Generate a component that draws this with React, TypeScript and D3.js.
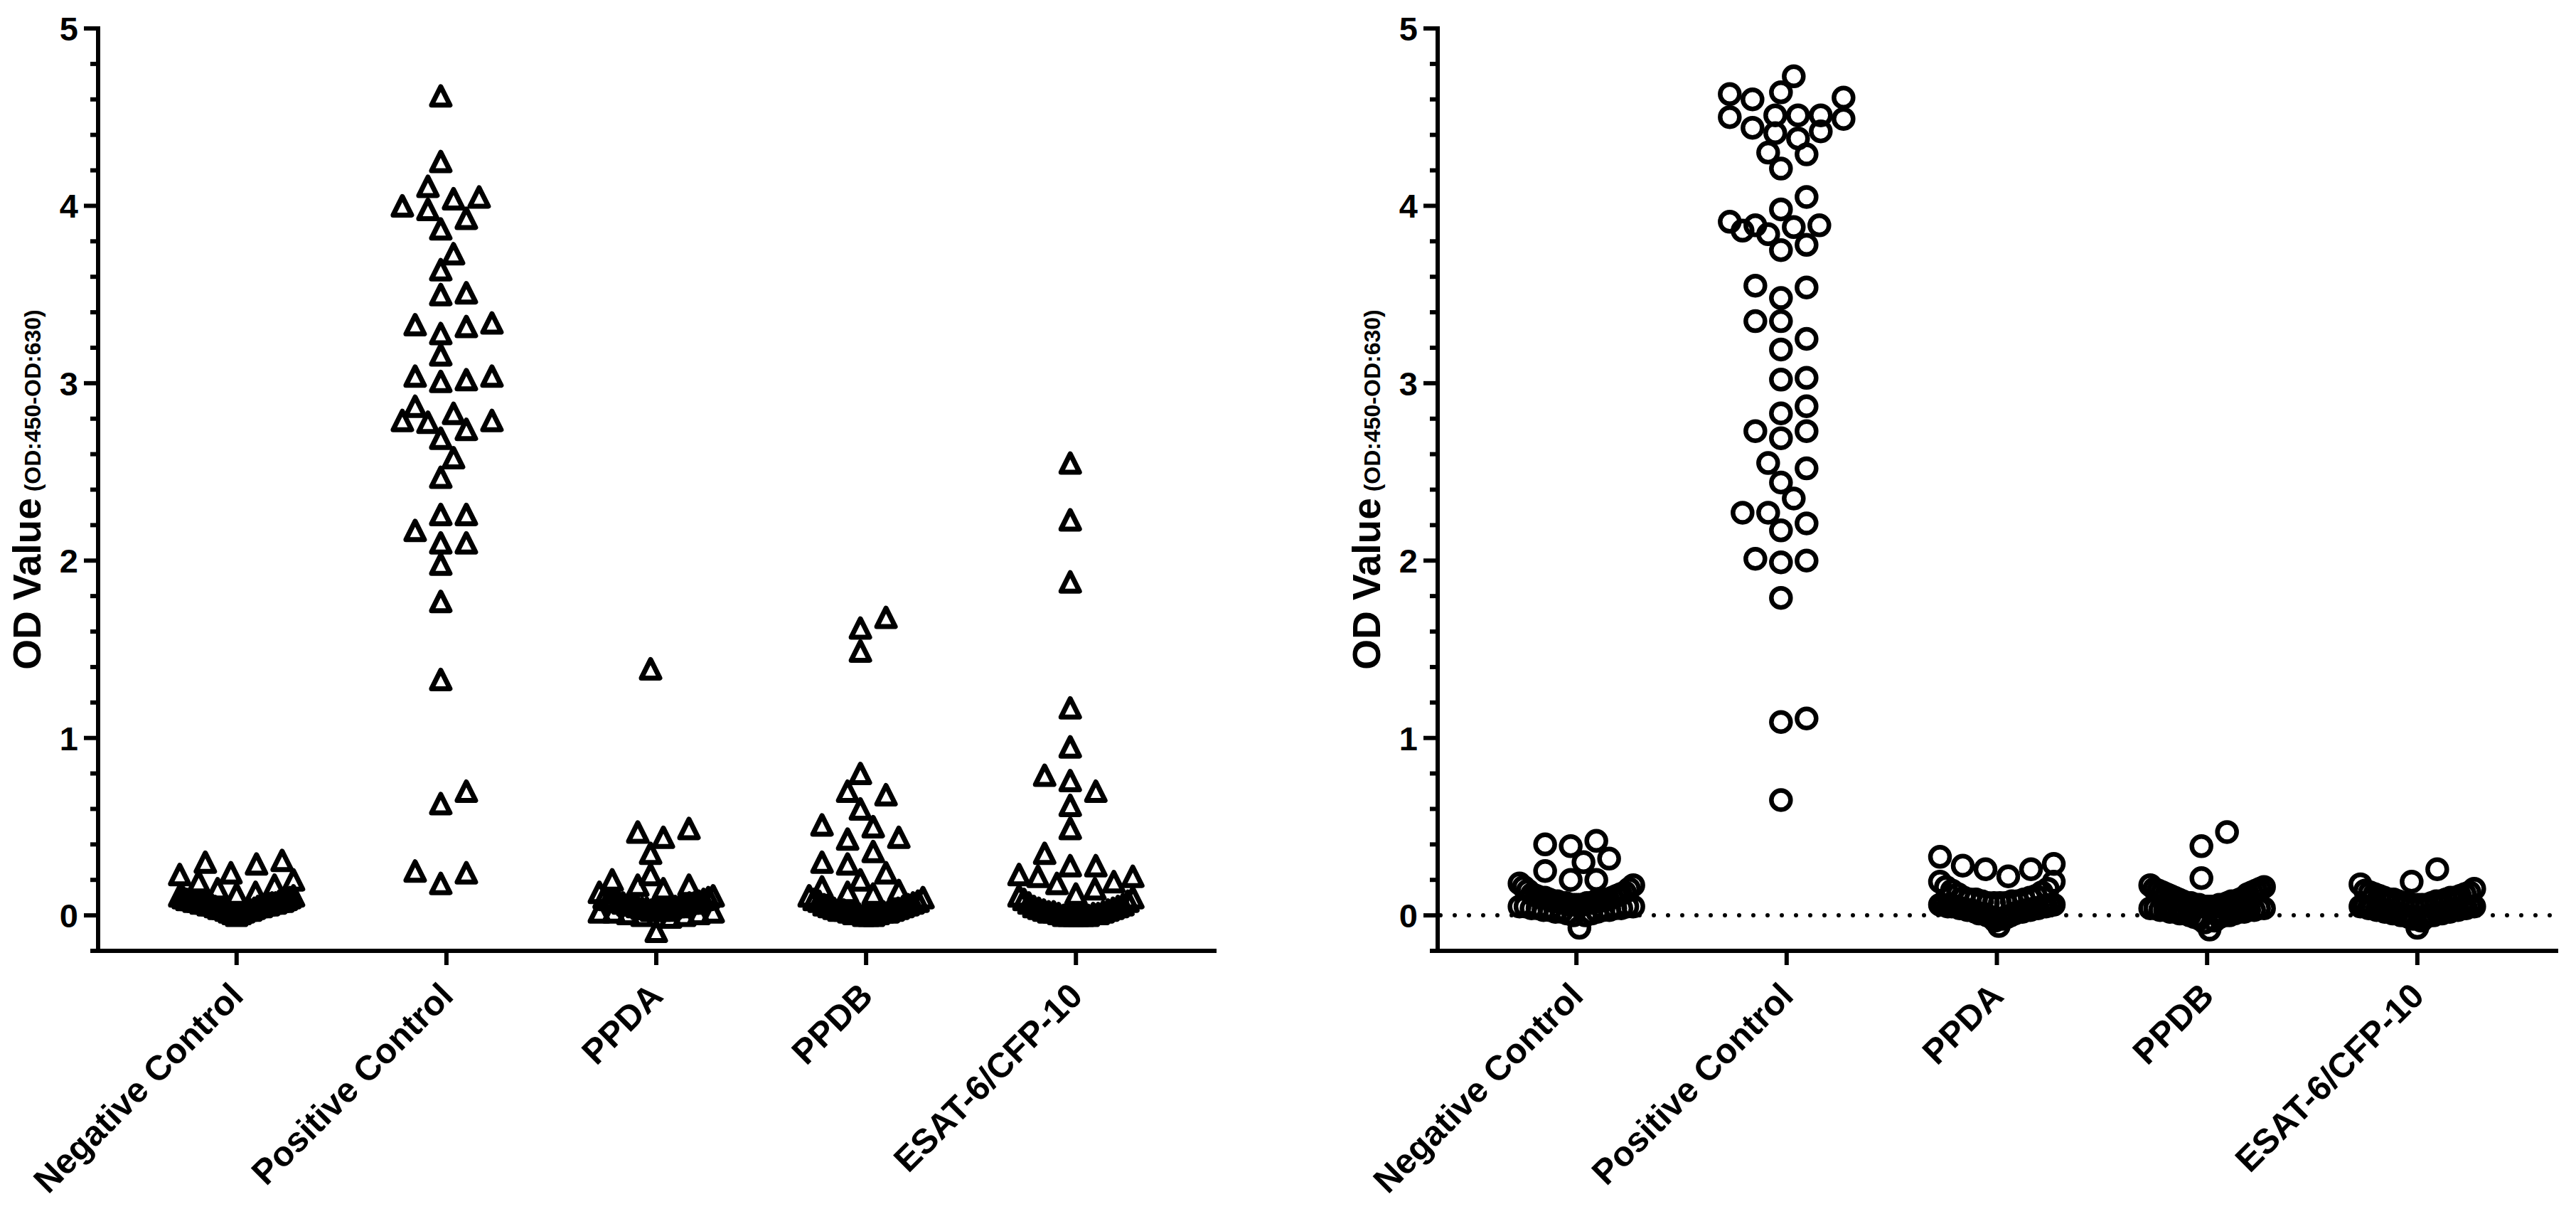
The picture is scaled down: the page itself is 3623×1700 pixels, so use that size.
import { useMemo } from "react";
import * as d3 from "d3";

const WIDTH = 3623;
const HEIGHT = 1700;
const FONT = "'Liberation Sans', Arial, Helvetica, sans-serif";

const CATEGORIES = ["Negative Control", "Positive Control", "PPDA", "PPDB", "ESAT-6/CFP-10"];
const Y_TICK_LABELS = [0, 1, 2, 3, 4, 5];

// left panel (triangles)
const leftNegative = [
  0.31, 0.3, 0.29, 0.24, 0.23, 0.2, 0.19, 0.17, 0.15,
  0.0, 0.01, 0.01, 0.02, 0.02, 0.03, 0.03, 0.03, 0.04, 0.04, 0.04, 0.05, 0.05, 0.05,
  0.06, 0.06, 0.06, 0.06, 0.07, 0.07, 0.07, 0.07, 0.08, 0.08, 0.08, 0.08, 0.09, 0.09,
  0.09, 0.1, 0.1, 0.11, 0.11, 0.12, 0.13,
];
const leftPositive = [
  4.62, 4.25, 4.11, 4.05, 4.04, 4.0, 3.98, 3.93, 3.87, 3.73, 3.64, 3.51, 3.5, 3.34,
  3.33, 3.32, 3.28, 3.16, 3.04, 3.04, 3.02, 3.01, 2.87, 2.83, 2.79, 2.79, 2.78, 2.74,
  2.69, 2.58, 2.47, 2.26, 2.26, 2.17, 2.1, 2.1, 1.98, 1.77, 1.33, 0.7, 0.63, 0.25,
  0.24, 0.18,
];
const leftPPDA = [
  1.39, 0.49, 0.47, 0.44, 0.35, 0.23, 0.2, 0.17, 0.17, 0.15, 0.13, 0.09, -0.09,
  -0.01, 0.0, 0.0, 0.01, 0.01, 0.02, 0.02, 0.02, 0.03, 0.03, 0.03, 0.03, 0.04, 0.04,
  0.04, 0.05, 0.05, 0.05, 0.06, 0.06, 0.06, 0.07, 0.07, 0.07, 0.08, 0.08, 0.09, 0.09,
  0.1, 0.1, 0.11,
];
const leftPPDB = [
  1.68, 1.62, 1.49, 0.8, 0.7, 0.68, 0.6, 0.51, 0.5, 0.44, 0.43, 0.36, 0.3, 0.29,
  0.24, 0.2, 0.16,
  0.0, 0.0, 0.0, 0.01, 0.01, 0.01, 0.02, 0.02, 0.02, 0.03, 0.03, 0.03, 0.04, 0.04,
  0.05, 0.05, 0.06, 0.06, 0.07, 0.08, 0.08, 0.09, 0.1, 0.11, 0.12, 0.13, 0.14,
];
const leftESAT = [
  2.55, 2.23, 1.88, 1.17, 0.95, 0.79, 0.76, 0.7, 0.62, 0.49, 0.35, 0.28, 0.28, 0.23,
  0.22, 0.22, 0.19, 0.18, 0.15, 0.12,
  0.0, 0.0, 0.0, 0.0, 0.0, 0.0, 0.01, 0.01, 0.01, 0.02, 0.02, 0.02, 0.03, 0.03,
  0.04, 0.04, 0.05, 0.05, 0.06, 0.07, 0.08, 0.09, 0.1, 0.11,
];

// right panel (circles)
const rightNegative = [
  0.42, 0.4, 0.39, 0.32, 0.3, 0.25, 0.2, 0.2, -0.07,
  0.0, 0.0, 0.01, 0.01, 0.02, 0.02, 0.02, 0.03, 0.03, 0.03, 0.03, 0.04, 0.04, 0.04,
  0.04, 0.05, 0.05, 0.05, 0.05, 0.06, 0.06, 0.06, 0.06, 0.07, 0.07, 0.07, 0.07, 0.08,
  0.08, 0.08, 0.08, 0.09, 0.09, 0.09, 0.1, 0.1, 0.1, 0.11, 0.11, 0.12, 0.12, 0.13,
  0.14, 0.15, 0.16, 0.17, 0.18,
];
const rightPositive = [
  4.73, 4.64, 4.63, 4.61, 4.6, 4.51, 4.51, 4.51, 4.5, 4.49, 4.44, 4.42, 4.41, 4.38,
  4.3, 4.29, 4.21, 4.05, 3.98, 3.91, 3.89, 3.89, 3.88, 3.86, 3.84, 3.78, 3.75, 3.55,
  3.54, 3.48, 3.35, 3.35, 3.25, 3.19, 3.03, 3.02, 2.87, 2.83, 2.73, 2.73, 2.69, 2.55,
  2.52, 2.44, 2.35, 2.27, 2.27, 2.21, 2.17, 2.01, 2.0, 1.99, 1.79, 1.11, 1.09, 0.65,
];
const rightPPDA = [
  0.33, 0.29, 0.28, 0.26, 0.26, 0.22, 0.19, 0.19,
  -0.06, -0.03, -0.02, -0.01, -0.01, 0.0, 0.0, 0.01, 0.01, 0.01, 0.02, 0.02, 0.02,
  0.03, 0.03, 0.03, 0.03, 0.04, 0.04, 0.04, 0.04, 0.05, 0.05, 0.05, 0.05, 0.05, 0.06,
  0.06, 0.06, 0.06, 0.07, 0.07, 0.07, 0.07, 0.08, 0.08, 0.08, 0.09, 0.09, 0.09, 0.1,
  0.1, 0.11, 0.12, 0.13, 0.14, 0.15, 0.16,
];
const rightPPDB = [
  0.47, 0.39, 0.21, 0.16, 0.15, 0.14,
  -0.08, -0.04, -0.03, -0.02, -0.01, -0.01, 0.0, 0.0, 0.0, 0.01, 0.01, 0.01, 0.02,
  0.02, 0.02, 0.02, 0.03, 0.03, 0.03, 0.03, 0.04, 0.04, 0.04, 0.04, 0.05, 0.05, 0.05,
  0.05, 0.06, 0.06, 0.06, 0.06, 0.07, 0.07, 0.07, 0.08, 0.08, 0.08, 0.09, 0.09, 0.1,
  0.1, 0.11, 0.12, 0.12, 0.13, 0.13, 0.14, 0.15, 0.17,
];
const rightESAT = [
  0.26, 0.19, 0.175, 0.15, 0.13, 0.12, 0.11, 0.1,
  -0.07, -0.03, -0.02, -0.01, -0.01, 0.0, 0.0, 0.0, 0.0, 0.01, 0.01, 0.01, 0.01, 0.02,
  0.02, 0.02, 0.02, 0.03, 0.03, 0.03, 0.03, 0.04, 0.04, 0.04, 0.04, 0.05, 0.05, 0.05,
  0.05, 0.06, 0.06, 0.06, 0.06, 0.07, 0.07, 0.07, 0.08, 0.08, 0.08, 0.09, 0.09, 0.09,
  0.1, 0.1, 0.11, 0.12, 0.13, 0.14,
];

const LEFT_GROUPS = [leftNegative, leftPositive, leftPPDA, leftPPDB, leftESAT];
const RIGHT_GROUPS = [rightNegative, rightPositive, rightPPDA, rightPPDB, rightESAT];

const PLOT_TOP = 40;
const PLOT_BOTTOM = 1337;
const STROKE = 6;
const MARK_STROKE = 7;
const SLOT = 36; // horizontal spacing of points sharing a row
const SPREAD = 80; // max offset from the column centre
const MIN_DIST = 28;

// Prism-like column scatter: values binned in rows one symbol high. Crowded rows
// are squeezed centre-out (lowest first); sparse rows are dropped into the
// nearest free spot so they do not sit on the rows below.
function columnScatter(values: number[], y: (v: number) => number, rowPx: number): number[] {
  const offsets = new Array(values.length).fill(0);
  const order = d3.range(values.length).sort((a, b) => values[a] - values[b]);
  const capacity = Math.floor((2 * SPREAD) / SLOT) + 1;
  const candidates = d3
    .range(-SPREAD, SPREAD + 0.1, SLOT / 2)
    .sort((a, b) => Math.abs(a) - Math.abs(b) || b - a);
  const placed: [number, number][] = [];
  const gapAt = (px: number, py: number) => {
    let gap = Infinity;
    for (const [qx, qy] of placed) gap = Math.min(gap, Math.hypot(qx - px, qy - py));
    return gap;
  };
  const rows: number[][] = [];
  let rowStart = 0;
  for (const i of order) {
    const py = y(values[i]);
    if (rows.length === 0 || rowStart - py >= rowPx) {
      rows.push([]);
      rowStart = py;
    }
    rows[rows.length - 1].push(i);
  }
  for (const row of rows) {
    const n = row.length;
    if (n > capacity) {
      const s = (2 * SPREAD) / (n - 1);
      row.forEach((idx, k) => {
        let slot: number;
        if (n % 2 === 1) slot = k === 0 ? 0 : k % 2 === 1 ? (k + 1) / 2 : -k / 2;
        else slot = k % 2 === 0 ? k / 2 + 0.5 : -((k - 1) / 2 + 0.5);
        offsets[idx] = slot * s;
        placed.push([slot * s, y(values[idx])]);
      });
    } else {
      for (const idx of row) {
        const py = y(values[idx]);
        let pick = 0;
        let best = -1;
        for (const c of candidates) {
          const g = gapAt(c, py);
          if (g >= MIN_DIST) {
            pick = c;
            break;
          }
          if (g > best + 0.5) {
            best = g;
            pick = c;
          }
        }
        offsets[idx] = pick;
        placed.push([pick, py]);
      }
    }
  }
  return offsets;
}

function Panel({
  groups,
  x0,
  x1,
  symbol,
  zeroLine,
}: {
  groups: number[][];
  x0: number;
  x1: number;
  symbol: "triangle" | "circle";
  zeroLine: boolean;
}) {
  const y = useMemo(() => d3.scaleLinear().domain([-0.2, 5]).range([PLOT_BOTTOM, PLOT_TOP]), []);
  const x = useMemo(
    () => d3.scalePoint<string>().domain(CATEGORIES).range([x0, x1]).padding(0.66),
    [x0, x1]
  );
  const rowPx = symbol === "triangle" ? 28 : 30;
  const layout = useMemo(() => groups.map((g) => columnScatter(g, y, rowPx)), [groups, y, rowPx]);
  const minorTicks = y.ticks(26);
  const axisY = y(-0.2);
  const triangle = "M0,-13L13,13L-13,13Z";

  return (
    <g>
      {zeroLine && (
        <line
          x1={x0 + 4}
          x2={x1}
          y1={y(0)}
          y2={y(0)}
          stroke="#000"
          strokeWidth={STROKE}
          strokeLinecap="round"
          strokeDasharray="0 20"
        />
      )}
      {groups.map((g, gi) =>
        g.map((v, i) => {
          const cx = (x(CATEGORIES[gi]) ?? 0) + layout[gi][i];
          const cy = y(v);
          return symbol === "triangle" ? (
            <path
              key={`${gi}-${i}`}
              d={triangle}
              transform={`translate(${cx},${cy})`}
              fill="none"
              stroke="#000"
              strokeWidth={MARK_STROKE}
              strokeLinejoin="round"
            />
          ) : (
            <circle
              key={`${gi}-${i}`}
              cx={cx}
              cy={cy}
              r={13.5}
              fill="none"
              stroke="#000"
              strokeWidth={MARK_STROKE - 0.5}
            />
          );
        })
      )}
      <line x1={x0} x2={x0} y1={axisY} y2={y(5)} stroke="#000" strokeWidth={STROKE} strokeLinecap="square" />
      {minorTicks.map((t) => {
        const major = Math.abs(t - Math.round(t)) < 1e-6;
        return (
          <line
            key={t}
            x1={x0 - (major ? 20 : 11)}
            x2={x0}
            y1={y(t)}
            y2={y(t)}
            stroke="#000"
            strokeWidth={STROKE}
          />
        );
      })}
      {Y_TICK_LABELS.map((t) => (
        <text
          key={t}
          x={x0 - 28}
          y={y(t)}
          dy="0.36em"
          textAnchor="end"
          fontFamily={FONT}
          fontWeight="bold"
          fontSize={47}
        >
          {t}
        </text>
      ))}
      <text
        transform={`translate(${x0 - 81},${(PLOT_TOP + PLOT_BOTTOM) / 2}) rotate(-90)`}
        textAnchor="middle"
        fontFamily={FONT}
        fontWeight="bold"
      >
        <tspan fontSize={55}>OD Value</tspan>
        <tspan fontSize={32}> (OD:450-OD:630)</tspan>
      </text>
      <line x1={x0} x2={x1} y1={axisY} y2={axisY} stroke="#000" strokeWidth={STROKE} strokeLinecap="square" />
      {CATEGORIES.map((c) => {
        const cx = x(c) ?? 0;
        return (
          <g key={c}>
            <line x1={cx} x2={cx} y1={axisY} y2={axisY + 20} stroke="#000" strokeWidth={STROKE} />
            <text
              transform={`translate(${cx},${axisY + 54}) rotate(-45)`}
              dy="0.35em"
              textAnchor="end"
              fontFamily={FONT}
              fontWeight="bold"
              fontSize={49}
            >
              {c}
            </text>
          </g>
        );
      })}
    </g>
  );
}

export default function App() {
  return (
    <svg
      width={WIDTH}
      height={HEIGHT}
      style={{ position: "absolute", left: 0, top: 0, background: "#fff" }}
    >
      <rect width={WIDTH} height={HEIGHT} fill="#fff" />
      <Panel groups={LEFT_GROUPS} x0={138} x1={1708} symbol="triangle" zeroLine={false} />
      <Panel groups={RIGHT_GROUPS} x0={2022} x1={3595} symbol="circle" zeroLine={true} />
    </svg>
  );
}
